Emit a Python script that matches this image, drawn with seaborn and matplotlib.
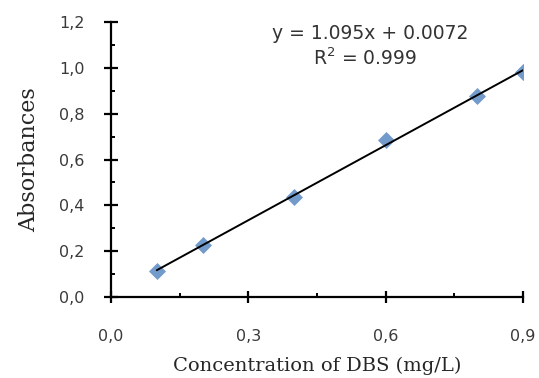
import numpy as np
import pandas as pd
import matplotlib
matplotlib.use("Agg")
import matplotlib.pyplot as plt
from matplotlib.ticker import FuncFormatter, MultipleLocator
import seaborn as sns

conc = [0.1, 0.2, 0.4, 0.6, 0.8, 0.9]
absorb = [0.114, 0.226, 0.436, 0.686, 0.877, 0.980]
x_ticks = [0.0, 0.3, 0.6, 0.9]
y_ticks = [0.0, 0.2, 0.4, 0.6, 0.8, 1.0, 1.2]
equation = "y = 1.095x + 0.0072"
r2_text = "R$^2$ = 0.999"

sns.set_style("ticks")
plt.rcParams['font.family'] = ['DejaVu Sans']

df = pd.DataFrame({"conc": conc, "abs": absorb})

fig = plt.figure(figsize=(5.39, 3.78), dpi=100)
ax = fig.add_axes([0.206, 0.214, 0.764, 0.728])

sns.regplot(data=df, x="conc", y="abs", ax=ax, ci=None, truncate=True,
            marker="D",
            scatter_kws=dict(color="#4F81BD", s=75, edgecolor="#4F81BD", linewidths=0, zorder=3),
            line_kws=dict(color="black", lw=1.4, zorder=4))

ax.set_xlim(0, 0.9)
ax.set_ylim(0, 1.2)
ax.set_xticks(x_ticks)
ax.set_yticks(y_ticks)
ax.xaxis.set_minor_locator(MultipleLocator(0.15))
ax.yaxis.set_minor_locator(MultipleLocator(0.1))
fmt = FuncFormatter(lambda v, p: f"{v:.1f}".replace(".", ","))
ax.xaxis.set_major_formatter(fmt)
ax.yaxis.set_major_formatter(fmt)

for s in ["top", "right"]:
    ax.spines[s].set_visible(False)
for s in ["left", "bottom"]:
    ax.spines[s].set_linewidth(1.6)
    ax.spines[s].set_color("black")

ax.tick_params(axis="y", which="major", direction="inout", length=10, width=1.6,
               pad=14, labelsize=11.5, colors="black", labelcolor="#3a3a3a")
ax.tick_params(axis="x", which="major", direction="inout", length=8, width=1.6,
               pad=19, labelsize=11.5, colors="black", labelcolor="#3a3a3a")
ax.tick_params(which="minor", direction="in", length=3, width=1.4, colors="black")

ax.set_xlabel("Concentration of DBS (mg/L)", family="DejaVu Serif", fontsize=14, labelpad=9)
ax.set_ylabel("Absorbances", family="DejaVu Serif", fontsize=16, labelpad=14)

ax.text(0.566, 1.148, equation, ha="center", va="center", fontsize=13.5, color="#333333")
ax.text(0.555, 1.043, r2_text, ha="center", va="center", fontsize=13.5, color="#333333")

fig.savefig("out.png", dpi=100)
